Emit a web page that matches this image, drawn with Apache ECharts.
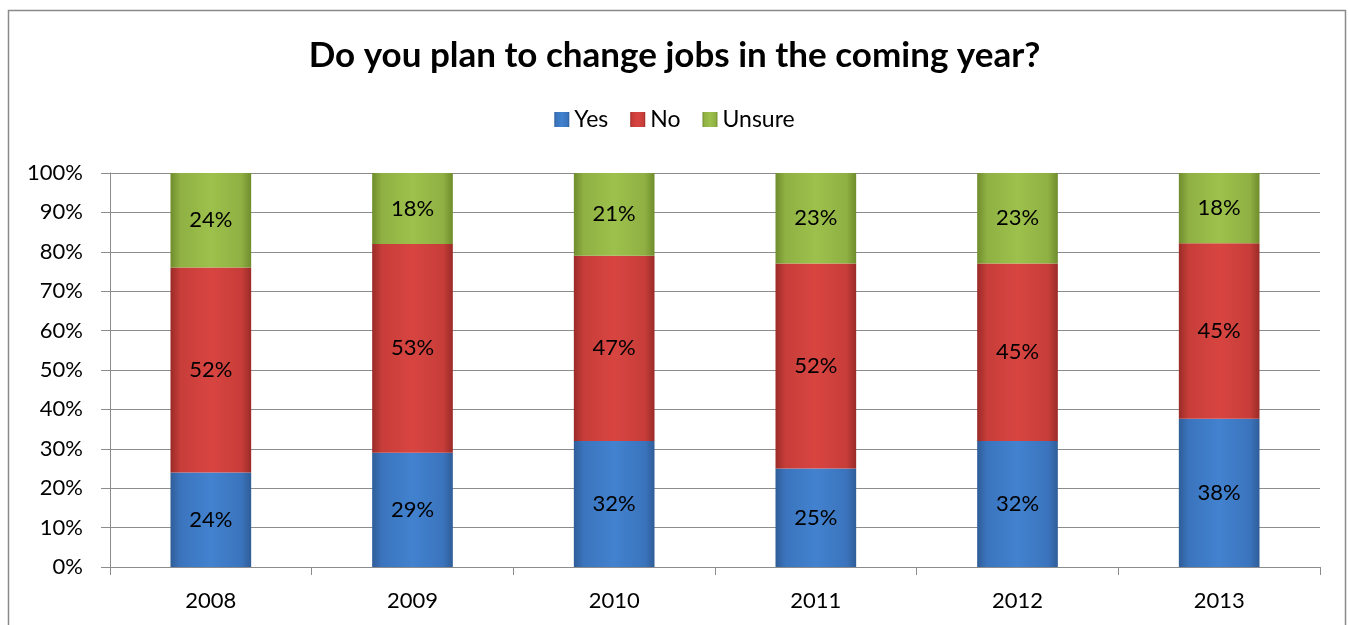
<!DOCTYPE html>
<html>
<head>
<meta charset="utf-8">
<title>Do you plan to change jobs in the coming year?</title>
<script src="https://cdn.jsdelivr.net/npm/echarts@6/dist/echarts.min.js"></script>
<style>
  html, body { margin: 0; padding: 0; background: #ffffff; }
  #chart { width: 1349px; height: 625px; }
</style>
</head>
<body>
<div id="chart"></div>
<script>
// Survey years and answer shares (percent of respondents)
const years = ['2008', '2009', '2010', '2011', '2012', '2013'];
const yes = [24, 29, 32, 25, 32, 38];
const no = [52, 53, 47, 52, 45, 45];
const unsure = [24, 18, 21, 23, 23, 18];
const yTicks = [0, 10, 20, 30, 40, 50, 60, 70, 80, 90, 100];

// Each column is scaled to 100% of its own total, like a 100% stacked bar
const totals = years.map((_, i) => yes[i] + no[i] + unsure[i]);
const share = arr => arr.map((v, i) => ({ value: v * 100 / totals[i], raw: v }));

const FONT = 'Lato, "Open Sans", sans-serif';

function barFill(edge, mid, light) {
  return new echarts.graphic.LinearGradient(0, 0, 1, 0, [
    { offset: 0, color: edge },
    { offset: 0.12, color: mid },
    { offset: 0.5, color: light },
    { offset: 0.88, color: mid },
    { offset: 1, color: edge }
  ]);
}

const palette = {
  Yes: barFill('#2f5d98', '#3b74bd', '#4282cf'),
  No: barFill('#9a2b28', '#c73d39', '#d84541'),
  Unsure: barFill('#6f8d2d', '#8fb043', '#9dc14c')
};

function makeSeries(name, arr) {
  return {
    name: name,
    type: 'bar',
    stack: 'total',
    barWidth: '40%',
    data: share(arr),
    itemStyle: { color: palette[name] },
    label: {
      show: true,
      position: 'inside',
      color: '#000000',
      fontFamily: FONT,
      fontSize: 22,
      formatter: p => p.data.raw + '%'
    },
    emphasis: { disabled: true }
  };
}

const chart = echarts.init(document.getElementById('chart'), null, { renderer: 'canvas' });
chart.setOption({
  animation: false,
  backgroundColor: '#ffffff',
  title: {
    text: 'Do you plan to change jobs in the coming year?',
    left: 'center',
    top: 30,
    textStyle: { fontFamily: FONT, fontSize: 35, fontWeight: 'bold', color: '#000000', lineHeight: 42 }
  },
  legend: {
    top: 103,
    left: 'center',
    itemWidth: 15,
    itemHeight: 15,
    itemGap: 22,
    icon: 'rect',
    textStyle: { fontFamily: FONT, fontSize: 23, color: '#000000' },
    data: ['Yes', 'No', 'Unsure']
  },
  graphic: [{
    type: 'rect',
    shape: { x: 8.5, y: 10.5, width: 1337, height: 700 },
    style: { fill: 'none', stroke: '#8a8a8a', lineWidth: 1.5 },
    silent: true
  }],
  grid: { left: 110, right: 29, top: 173, bottom: 58 },
  xAxis: {
    type: 'category',
    data: years,
    axisLine: { lineStyle: { color: '#8c8c8c', width: 1 } },
    axisTick: { show: true, alignWithLabel: false, length: 8, lineStyle: { color: '#8c8c8c' } },
    axisLabel: { color: '#000000', fontFamily: FONT, fontSize: 22, margin: 23 }
  },
  yAxis: {
    type: 'value',
    min: yTicks[0],
    max: yTicks[yTicks.length - 1],
    interval: 10,
    axisLine: { show: true, lineStyle: { color: '#8c8c8c', width: 1 } },
    axisTick: { show: true, inside: false, length: 9, lineStyle: { color: '#8c8c8c' } },
    splitLine: { show: true, lineStyle: { color: '#8c8c8c', width: 1 } },
    axisLabel: { color: '#000000', fontFamily: FONT, fontSize: 22, margin: 27, formatter: '{value}%' }
  },
  series: [
    makeSeries('Yes', yes),
    makeSeries('No', no),
    makeSeries('Unsure', unsure)
  ]
});
</script>
</body>
</html>
